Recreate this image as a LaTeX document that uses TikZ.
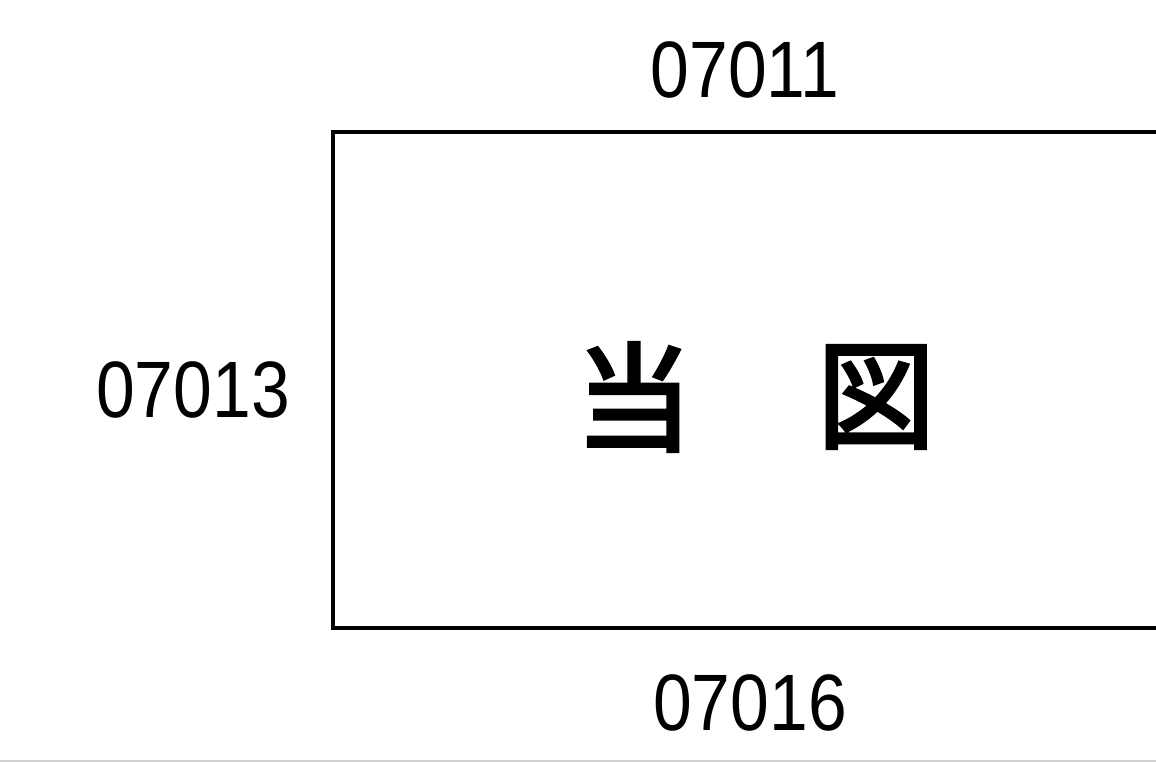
\documentclass[tikz,border=0pt]{standalone}
\usepackage{fontspec}
\setmainfont{Liberation Sans}
\newfontfamily\cjk[FakeBold=3]{Noto Sans CJK JP}
\begin{document}
\begin{tikzpicture}[x=1pt,y=-1pt,
  numlabel/.style={inner sep=0pt,font=\fontsize{80}{80}\selectfont,xscale=0.87},
  kanji/.style={inner sep=0pt,font=\cjk\fontsize{118}{118}\selectfont},
  frame/.style={draw=black,line width=4.2pt}]
\useasboundingbox (0,0) rectangle (1156,762);
\clip (0,0) rectangle (1156,762);
\draw[frame] (333,132) rectangle (1180,628);
\node[numlabel] (top) at (745,70) {07011};
\node[numlabel] (left) at (193,390) {07013};
\node[numlabel] (bottom) at (750,703) {07016};
\node[kanji] (k1) at (634,397) {当};
\node[kanji] (k2) at (876,397) {図};
\coordinate (gl) at (0,760.5);
\coordinate (gr) at (1156,760.5);
\draw[black!18,line width=2pt] (gl) -- (gr);
\end{tikzpicture}
\end{document}
